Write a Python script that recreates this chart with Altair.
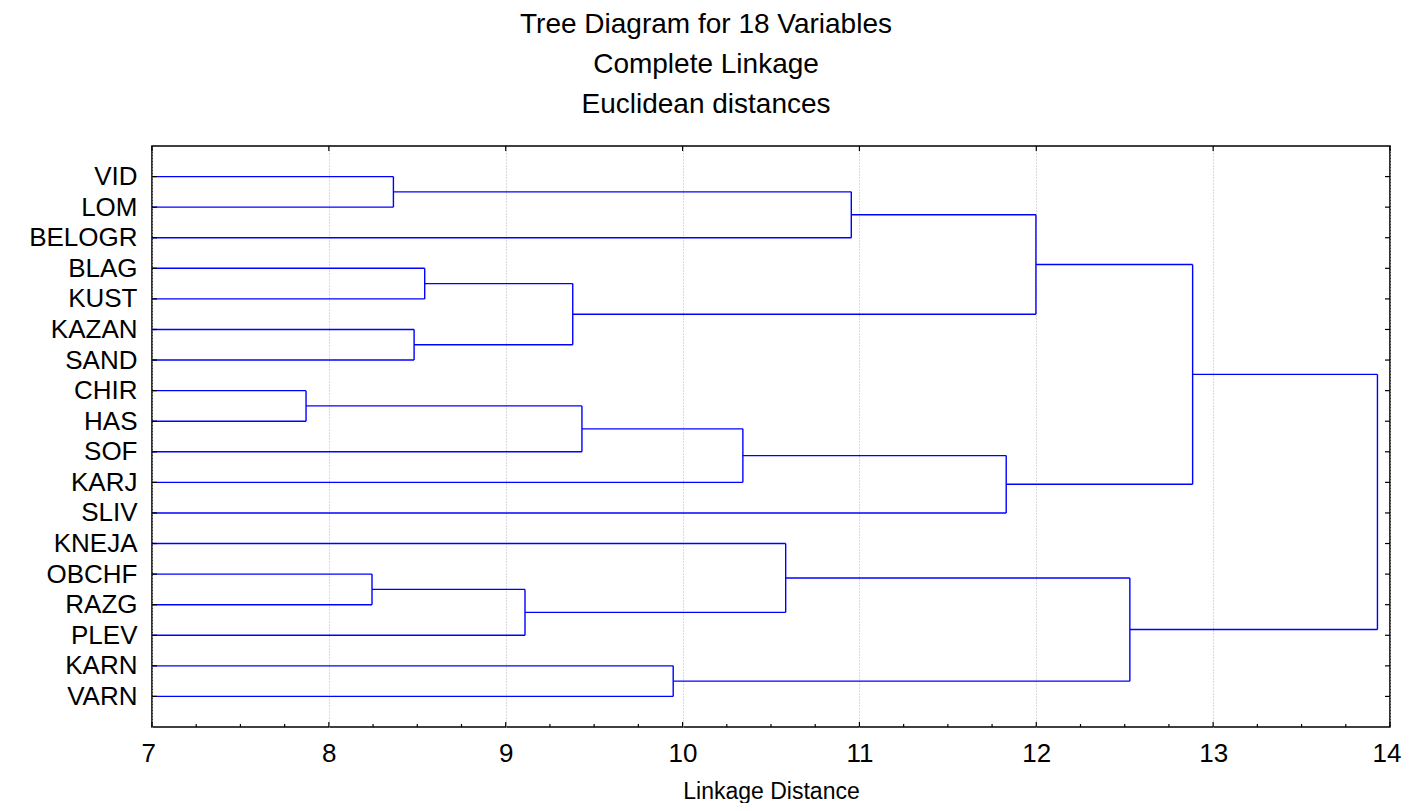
import altair as alt
import pandas as pd
import numpy as np

# ---- data ----
leaves = ["VID", "LOM", "BELOGR", "BLAG", "KUST", "KAZAN", "SAND", "CHIR", "HAS",
          "SOF", "KARJ", "SLIV", "KNEJA", "OBCHF", "RAZG", "PLEV", "KARN", "VARN"]

# merges: children given as leaf names or as "m<k>" (k-th merge), with linkage height
merge_a = ["CHIR", "OBCHF", "VID", "KAZAN", "BLAG", "m1", "m4", "m0", "KARN",
           "m7", "KNEJA", "m2", "m9", "m11", "m10", "m13", "m15"]
merge_b = ["HAS", "RAZG", "LOM", "SAND", "KUST", "PLEV", "m3", "SOF", "VARN",
           "KARJ", "m5", "BELOGR", "SLIV", "m6", "m8", "m12", "m14"]
merge_h = [7.871, 8.244, 8.365, 8.482, 8.542, 9.109, 9.379, 9.431, 9.947,
           10.341, 10.583, 10.954, 11.83, 11.998, 12.529, 12.884, 13.929]

x_min, x_max = 7, 14
major_ticks = [7, 8, 9, 10, 11, 12, 13, 14]
minor_step = 0.25
title_lines = ["Tree Diagram for 18 Variables", "Complete Linkage", "Euclidean distances"]
x_title = "Linkage Distance"

# ---- build dendrogram segments ----
pos = {name: i + 1 for i, name in enumerate(leaves)}
hgt = {name: float(x_min) for name in leaves}
segs = []
for k, (a, b, h) in enumerate(zip(merge_a, merge_b, merge_h)):
    for c in (a, b):
        segs.append({"x": hgt[c], "x2": h, "y": pos[c], "y2": pos[c]})
    segs.append({"x": h, "x2": h, "y": pos[a], "y2": pos[b]})
    name = f"m{k}"
    pos[name] = (pos[a] + pos[b]) / 2.0
    hgt[name] = h
seg_df = pd.DataFrame(segs)

W, H = 1238, 581
FONT = "Liberation Sans"
FS = 26

xscale = alt.Scale(domain=[x_min, x_max], nice=False, zero=False)
yscale = alt.Scale(domain=[0, len(leaves) + 1], nice=False, zero=False, reverse=True)

label_js = "[" + ",".join(f"'{n}'" for n in leaves) + "]"

x_axis = alt.Axis(values=major_ticks, title=x_title, grid=True, format="d",
                  gridDash=[1, 2], gridColor="#b4b4b4", gridWidth=1,
                  ticks=False, tickSize=0, domain=False,
                  labelFontSize=FS, labelFont=FONT, labelColor="black",
                  labelPadding=13, labelFlush=True, labelFlushOffset=11,
                  labelOverlap=False,
                  titleFontSize=23, titleFont=FONT, titleFontWeight="normal",
                  titleColor="black", titlePadding=14)
y_axis = alt.Axis(values=list(range(1, len(leaves) + 1)), title=None,
                  grid=False, ticks=False, tickSize=0, domain=False,
                  labelExpr=f"{label_js}[datum.value - 1]",
                  labelOverlap=False, labelBound=False, labelFlush=False,
                  labelFontSize=FS, labelFont=FONT, labelColor="black",
                  labelPadding=15)

tree = alt.Chart(seg_df).mark_rule(color="#0000ff", strokeWidth=1.4).encode(
    x=alt.X("x:Q", scale=xscale, axis=x_axis),
    x2="x2:Q",
    y=alt.Y("y:Q", scale=yscale, axis=y_axis),
    y2="y2:Q",
)

# tick marks drawn inward (as in the reference)
minor_vals = [v for v in np.arange(x_min, x_max + 1e-9, minor_step) if abs(v - round(v)) > 1e-9]
minor_df = pd.DataFrame({"v": minor_vals})
major_df = pd.DataFrame({"v": major_ticks})
leaf_df = pd.DataFrame({"p": list(range(1, len(leaves) + 1))})

bottom_major = alt.Chart(major_df).mark_rule(color="black", strokeWidth=1.2).encode(
    x=alt.X("v:Q", scale=xscale, axis=x_axis), y=alt.value(H), y2=alt.value(H - 5))
bottom_minor = alt.Chart(minor_df).mark_rule(color="black", strokeWidth=1.2).encode(
    x=alt.X("v:Q", scale=xscale, axis=x_axis), y=alt.value(H), y2=alt.value(H - 3))
top_major = alt.Chart(major_df).mark_rule(color="black", strokeWidth=1.2).encode(
    x=alt.X("v:Q", scale=xscale, axis=x_axis), y=alt.value(0), y2=alt.value(5))
left_ticks = alt.Chart(leaf_df).mark_rule(color="black", strokeWidth=1.2).encode(
    y=alt.Y("p:Q", scale=yscale, axis=y_axis), x=alt.value(0), x2=alt.value(5))
right_ticks = alt.Chart(leaf_df).mark_rule(color="black", strokeWidth=1.2).encode(
    y=alt.Y("p:Q", scale=yscale, axis=y_axis), x=alt.value(W), x2=alt.value(W - 5))

chart = alt.layer(tree, bottom_major, bottom_minor, top_major, left_ticks, right_ticks).properties(
    width=W, height=H,
    title=alt.Title(text=title_lines, fontSize=28, font=FONT, fontWeight="normal",
                    color="black", anchor="middle", dx=-65, offset=26, lineHeight=40),
    autosize=alt.AutoSizeParams(type="none"),
    padding={"left": 144, "top": 138, "right": 12, "bottom": 76},
    background="white",
).configure_view(stroke="black", strokeWidth=1.6)

chart.save("out.html", embed_options={"renderer": "svg", "actions": False})
